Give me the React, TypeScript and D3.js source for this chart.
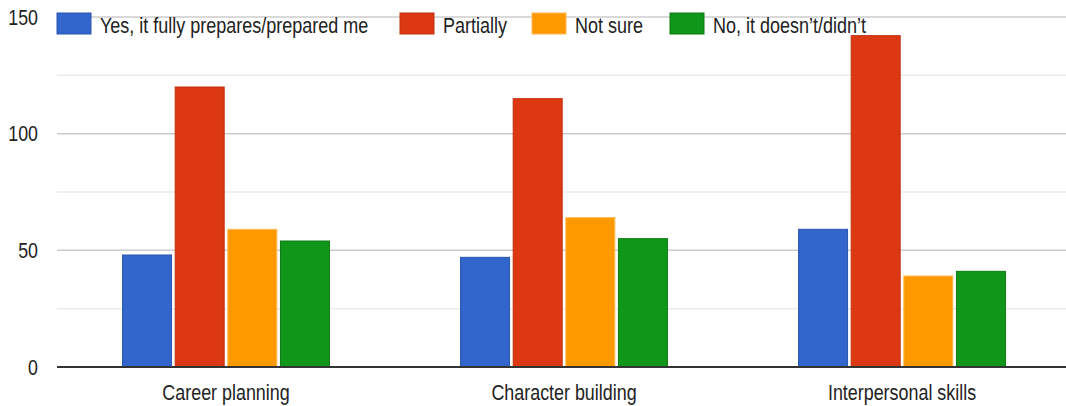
import React from "react";
import * as d3 from "d3";

const categories = ["Career planning", "Character building", "Interpersonal skills"];
const seriesNames = ["Yes, it fully prepares/prepared me", "Partially", "Not sure", "No, it doesn\u2019t/didn\u2019t"];
const seriesColors = ["#3366cc", "#dc3912", "#ff9900", "#109618"];
const seriesStroke = ["#2a55b0", "#c22f0d", "#ffb84d", "#0c7a12"];
const yesValues = [48, 47, 59];
const partiallyValues = [120, 115, 142];
const notSureValues = [59, 64, 39];
const noValues = [54, 55, 41];
const majorTicks = [0, 50, 100, 150];
const minorTicks = [25, 75, 125];

const W = 1066;
const H = 406;
const FONT = "'Liberation Sans', Arial, sans-serif";
const SY = 1.25;

export default function App() {
  const values = [yesValues, partiallyValues, notSureValues, noValues];
  const plotLeft = 57;
  const plotRight = 1071;
  const y = d3.scaleLinear().domain([0, 150]).range([367, 17]);
  const x0 = d3.scaleBand<string>().domain(categories).range([plotLeft, plotRight]).paddingInner(0.385).paddingOuter(0.1925);
  const x1 = d3.scaleBand<string>().domain(seriesNames).range([0, x0.bandwidth()]).paddingInner(0.05).paddingOuter(0);

  const legendX = [57, 400, 532, 670];

  return (
    <svg width={W} height={H} style={{ position: "absolute", left: 0, top: 0, display: "block", background: "#fff" }} fontFamily={FONT}>
      <rect x={0} y={0} width={W} height={H} fill="#fff" />
      {minorTicks.map((t) => (
        <line key={"m" + t} x1={plotLeft} x2={W} y1={y(t)} y2={y(t)} stroke="#ebebeb" strokeWidth={1.5} />
      ))}
      {majorTicks.filter((t) => t > 0).map((t) => (
        <line key={"g" + t} x1={plotLeft} x2={W} y1={y(t)} y2={y(t)} stroke="#cccccc" strokeWidth={1.5} />
      ))}
      {majorTicks.map((t) => (
        <text key={"t" + t} transform={`translate(38,${y(t)}) scale(1,${SY})`} textAnchor="end" dominantBaseline="central" fontSize={17.8} fill="#222">
          {t}
        </text>
      ))}
      {categories.map((c, ci) => (
        <g key={c} transform={`translate(${x0(c)},0)`}>
          {seriesNames.map((s, si) => {
            const v = values[si][ci];
            return (
              <rect
                key={s}
                x={(x1(s) as number) + 0.5}
                y={y(v)}
                width={x1.bandwidth() - 1}
                height={y(0) - y(v)}
                fill={seriesColors[si]}
                stroke={seriesStroke[si]}
                strokeWidth={1}
              />
            );
          })}
          <text transform={`translate(${x0.bandwidth() / 2},400) scale(1,${SY})`} textAnchor="middle" fontSize={17.9} fill="#222">
            {c}
          </text>
        </g>
      ))}
      <line x1={plotLeft} x2={W} y1={y(0)} y2={y(0)} stroke="#333" strokeWidth={2} />
      {seriesNames.map((s, si) => (
        <g key={"l" + s}>
          <rect x={legendX[si]} y={13} width={34} height={21} fill={seriesColors[si]} stroke={seriesStroke[si]} strokeWidth={1} />
          <text transform={`translate(${legendX[si] + 43},33) scale(1,${SY})`} fontSize={18} fill="#222">
            {s}
          </text>
        </g>
      ))}
    </svg>
  );
}
